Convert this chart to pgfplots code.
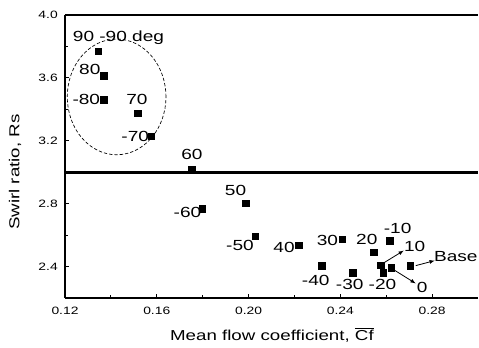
\documentclass[border=0pt]{standalone}
\usepackage{fontspec}
\setmainfont{Liberation Sans}[FakeStretch=1.3]
\usepackage{pgfplots}
\pgfplotsset{compat=1.18}
\usetikzlibrary{arrows.meta}
\begin{document}
\begin{tikzpicture}
\begin{axis}[
  scale only axis, width=309.75pt, height=212.25pt,
  xmin=0.12, xmax=0.30, ymin=2.2, ymax=4.0,
  axis x line*=box, axis y line*=left,
  x axis line style={line width=1.4pt},
  y axis line style={line width=1pt},
  xtick={0.12,0.16,0.20,0.24,0.28},
  minor xtick={0.14,0.18,0.22,0.26},
  ytick={2.4,2.8,3.2,3.6,4.0},
  minor ytick={2.6,3.0,3.4,3.8},
  xtick pos=bottom, ytick pos=left,
  tick align=inside,
  major tick length=3pt, minor tick length=2pt,
  tick style={line width=0.6pt, black},
  scaled x ticks=false, scaled y ticks=false,
  /pgf/number format/assume math mode=true,
  xticklabel style={/pgf/number format/fixed, /pgf/number format/fixed zerofill, /pgf/number format/precision=2,
    font=\fontsize{8}{9}\selectfont, anchor=center, yshift=-9.75pt},
  yticklabel style={/pgf/number format/fixed, /pgf/number format/fixed zerofill, /pgf/number format/precision=1,
    font=\fontsize{8}{9}\selectfont, anchor=east, inner sep=0pt, xshift=-5.25pt},
  xlabel={Mean flow coefficient, $\overline{\hbox{Cf}}$},
  xlabel style={at={(axis description cs:0.501,-0.151)}, anchor=base, font=\fontsize{10.8}{12}\selectfont},
  ylabel={Swirl ratio, Rs},
  ylabel style={at={(axis description cs:-0.121,0.445)}, anchor=center, font=\fontsize{10.8}{12}\selectfont},
  clip=false,
]
\coordinate (sw) at (rel axis cs:0,0);
\coordinate (ne) at (rel axis cs:1,1);
\draw[line width=2.2pt] (axis cs:0.12,3.0) -- (axis cs:0.30,3.0);
\draw[dash pattern=on 2.5pt off 1.5pt, line width=0.5pt] (axis cs:0.1425,3.479) ellipse [x radius=0.0215, y radius=0.368];
\addplot[only marks, mark=square*, mark size=2.4pt, black,
  point meta=explicit symbolic,
  nodes near coords,
  visualization depends on={\thisrow{dx}\as\dx},
  visualization depends on={\thisrow{dy}\as\dy},
  nodes near coords style={font=\fontsize{11}{13}\selectfont, anchor=center, inner sep=0pt, xshift=\dx pt, yshift=\dy pt, text=black},
] table[col sep=comma, x=x, y=y, meta=lbl] {
x,y,lbl,dx,dy
0.1346,3.771,90 -90 deg,15,9.75
0.1369,3.613,80,-10.5,4.5
0.1369,3.460,-80,-13.1,0
0.1518,3.376,70,-0.75,10.5
0.1576,3.227,-70,-12,0
0.1753,3.016,60,0,11.25
0.1799,2.768,-60,-11.25,-3
0.1987,2.804,50,-7.5,9.75
0.2028,2.592,-50,-11.25,-6.75
0.2218,2.535,40,-10.9,-1.5
0.2409,2.573,30,-11.25,-0.75
0.2319,2.406,-40,-4.5,-11.25
0.2454,2.360,-30,-2.25,-9
0.2546,2.491,20,-5.25,9.75
0.2615,2.565,-10,6,9
0.2576,2.408,10,25.5,14.25
0.2588,2.360,-20,-0.75,-9
0.2622,2.391,0,23.25,-14.25
0.2706,2.406,Base,34,6.75
};
\draw[line width=0.6pt, -{Latex[length=4pt,width=3pt]}] (axis cs:0.2591,2.425) -- (axis cs:0.2677,2.502);
\draw[line width=0.6pt, -{Latex[length=4pt,width=3pt]}] (axis cs:0.2638,2.375) -- (axis cs:0.2729,2.292);
\draw[line width=0.6pt, -{Latex[length=4pt,width=3pt]}] (axis cs:0.2729,2.406) -- (axis cs:0.2812,2.438);
\end{axis}
\pgfresetboundingbox
\path[use as bounding box] ([shift={(-48.75pt,-37.5pt)}]sw) rectangle ([shift={(0.75pt,11.25pt)}]ne);
\end{tikzpicture}
\end{document}
